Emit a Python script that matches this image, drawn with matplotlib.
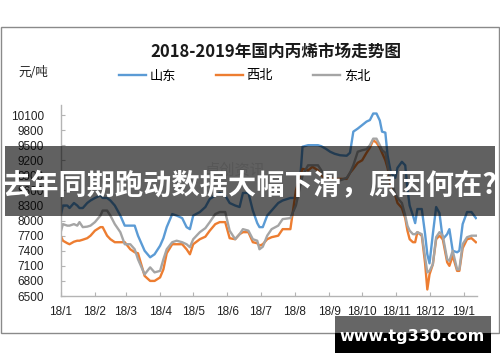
import matplotlib
matplotlib.use("Agg")
import matplotlib.pyplot as plt
import matplotlib.dates as mdates
from matplotlib.patches import Rectangle
import pandas as pd

plt.rcParams['font.family'] = ['Noto Sans CJK SC', 'DejaVu Sans']

# dates (yy-mm-dd) and prices in 元/吨
dates = ['18-01-01', '18-01-03', '18-01-07', '18-01-09', '18-01-13', '18-01-16', '18-01-18',
         '18-01-21', '18-01-25', '18-01-28', '18-02-01', '18-02-06', '18-02-08', '18-02-12',
         '18-02-15', '18-02-19', '18-02-24', '18-02-28', '18-03-05', '18-03-09', '18-03-12',
         '18-03-16', '18-03-18', '18-03-23', '18-03-27', '18-04-01', '18-04-04', '18-04-07',
         '18-04-12', '18-04-16', '18-04-21', '18-04-25', '18-04-28', '18-05-01', '18-05-07',
         '18-05-12', '18-05-16', '18-05-21', '18-05-25', '18-05-30', '18-06-03', '18-06-08',
         '18-06-12', '18-06-15', '18-06-20', '18-06-24', '18-06-28', '18-06-30', '18-07-03',
         '18-07-07', '18-07-11', '18-07-17', '18-07-21', '18-07-28', '18-08-02', '18-08-06',
         '18-08-08', '18-08-13', '18-08-17', '18-08-22', '18-08-25', '18-08-29', '18-09-02',
         '18-09-06', '18-09-11', '18-09-17', '18-09-20', '18-09-23', '18-09-27', '18-10-01',
         '18-10-05', '18-10-08', '18-10-11', '18-10-14', '18-10-17', '18-10-19', '18-10-22',
         '18-10-24', '18-10-27', '18-10-31', '18-11-02', '18-11-06', '18-11-09', '18-11-11',
         '18-11-13', '18-11-16', '18-11-18', '18-11-20', '18-11-24', '18-11-27', '18-11-29',
         '18-12-01', '18-12-04', '18-12-07', '18-12-10', '18-12-13', '18-12-17', '18-12-19',
         '18-12-22', '18-12-26', '18-12-28', '18-12-31', '19-01-04', '19-01-08', '19-01-12']

shandong = [8100, 8300, 8300, 8250, 8350, 8300, 8250, 8250, 8350, 8400, 8450, 8500, 8450, 8450,
            8400, 8300, 8100, 7900, 7900, 7900, 7700, 7500, 7400, 7270, 7330, 7500, 7650, 7870,
            8130, 8100, 8050, 7870, 7830, 8100, 8170, 8270, 8430, 8500, 8550, 8500, 8350, 8300,
            8270, 8550, 8550, 8200, 7950, 7870, 7870, 8100, 8200, 8350, 8400, 8450, 8450, 8870,
            9470, 9500, 9500, 9500, 9480, 9430, 9370, 9330, 9300, 9290, 9350, 9770, 9830, 9900,
            9970, 10000, 10130, 10130, 9990, 9770, 9750, 9300, 8950, 8850, 9050, 9170, 9100, 8630,
            8300, 8100, 7950, 8230, 8230, 7730, 7330, 7150, 7730, 8270, 8150, 7630, 7730, 7830,
            7400, 7370, 7400, 7930, 8170, 8170, 8050]

xibei = [7700, 7600, 7550, 7530, 7580, 7600, 7600, 7620, 7650, 7700, 7800, 7870, 7870, 7700,
         7630, 7570, 7570, 7570, 7430, 7370, 7350, 7050, 6900, 6800, 6800, 6870, 7030, 7350,
         7530, 7530, 7530, 7430, 7330, 7530, 7630, 7680, 7800, 7930, 7970, 7970, 7650, 7630,
         7730, 7770, 7770, 7570, 7550, 7500, 7530, 7630, 7670, 7700, 7830, 7830, 8600, 8900,
         9030, 9000, 9070, 9000, 8900, 8830, 8830, 8830, 8830, 8830, 8950, 9030, 9150, 9200,
         9350, 9450, 9600, 9550, 9450, 9350, 9200, 9050, 8700, 8500, 8350, 8250, 8050, 7800,
         7630, 7570, 7570, 7770, 7700, 7150, 6630, 6930, 7130, 7630, 7700, 7630, 7170, 7100,
         7300, 7000, 7000, 7450, 7630, 7650, 7570]

dongbei = [7770, 7930, 7900, 7900, 7930, 7900, 7970, 7870, 7880, 7900, 7970, 8100, 8200, 8200,
           8100, 7930, 7770, 7530, 7530, 7430, 7230, 7030, 6930, 7070, 6970, 7000, 7230, 7430,
           7570, 7600, 7570, 7530, 7470, 7630, 7770, 7850, 7970, 8130, 8170, 8170, 7800, 7630,
           7730, 7830, 7800, 7630, 7600, 7430, 7480, 7700, 7830, 7900, 8030, 8050, 8300, 8700,
           8900, 9100, 9100, 9100, 9000, 8830, 8800, 8800, 8800, 8850, 8950, 9100, 9370, 9400,
           9420, 9500, 9630, 9630, 9500, 9400, 9350, 9100, 8800, 8530, 8450, 8350, 8100, 7900,
           7800, 7730, 7730, 7770, 7730, 7270, 6970, 7000, 7130, 7670, 7770, 7700, 7230, 7200,
           7400, 7030, 7030, 7530, 7670, 7700, 7700]

series_names = ['山东', '西北', '东北']
series_colors = ['#5B9BD5', '#ED7D31', '#A5A5A5']
y_ticks = list(range(6500, 10101, 300))
month_labels = ['18/1', '18/2', '18/3', '18/4', '18/5', '18/6', '18/7', '18/8', '18/9',
                '18/10', '18/11', '18/12', '19/1']

x = pd.to_datetime(dates, format='%y-%m-%d')

fig = plt.figure(figsize=(5, 3.62), dpi=100)
ax = fig.add_axes([0.1214, 0.1823, 0.8326, 0.5277])

for vals, name, col in zip([shandong, xibei, dongbei], series_names, series_colors):
    ax.plot(x, vals, color=col, lw=1.7, label=name, solid_joinstyle='round')

ax.set_ylim(6500, 10300)
ax.set_yticks(y_ticks)
ax.set_xlim(pd.Timestamp('2018-01-01'), pd.Timestamp('2019-01-13'))
month_ticks = pd.date_range('2018-01-01', periods=len(month_labels), freq='MS')
ax.set_xticks(month_ticks)
ax.set_xticklabels(month_labels)

for s in ['top', 'right']:
    ax.spines[s].set_visible(False)
for s in ['left', 'bottom']:
    ax.spines[s].set_color('#b4b4b4')
    ax.spines[s].set_linewidth(1)
ax.tick_params(axis='y', direction='in', length=3, color='#b4b4b4', pad=12,
               labelsize=8.5, labelcolor='#222222')
ax.tick_params(axis='x', direction='in', length=3, color='#b4b4b4', pad=7,
               labelsize=8.5, labelcolor='#222222')
for lab in ax.get_xticklabels() + ax.get_yticklabels():
    lab.set_family('Liberation Sans')

fig.text(0.552, 1 - 52 / 362, '2018-2019年国内丙烯市场走势图', ha='center', va='center',
         fontsize=12, fontweight='bold', color='#1a1a1a')
fig.text(33 / 500, 1 - 72 / 362, '元/吨', ha='center', va='center', fontsize=9, color='#222222')

ax.legend(ncol=3, loc='center left', bbox_to_anchor=(112 / 500, 1 - 76 / 362),
          bbox_transform=fig.transFigure, frameon=False, fontsize=9.5,
          handlelength=2.1, handletextpad=0.25, columnspacing=3.0, borderpad=0)

# overlay layer in pixel coordinates
ov = fig.add_axes([0, 0, 1, 1], zorder=10)
ov.set_xlim(0, 500)
ov.set_ylim(362, 0)
ov.axis('off')
ov.patch.set_visible(False)

ov.add_patch(Rectangle((1, 27), 497.5, 306, fill=False, edgecolor='#8a8a8a', lw=1, zorder=1))
ov.text(235, 170, '卓创资讯', ha='center', va='center', fontsize=11, color='#e4e4e4', zorder=1)

ov.add_patch(Rectangle((5, 146), 490, 70, facecolor='black', alpha=0.62, lw=0, zorder=2))
ov.text(250, 185, '去年同期跑动数据大幅下滑，原因何在?', ha='center', va='center',
        fontsize=20.3, fontweight='bold', color='white', zorder=3)

ov.add_patch(Rectangle((335, 316), 156, 17, facecolor='#666666', lw=0, zorder=4))
ov.add_patch(Rectangle((335, 333), 156, 20, facecolor='black', lw=0, zorder=4))
ov.text(412, 337, 'www.tg330.com', ha='center', va='center', fontsize=11.5,
        fontweight='bold', color='white', family='DejaVu Sans', zorder=5)

fig.savefig('out.png', dpi=100)
